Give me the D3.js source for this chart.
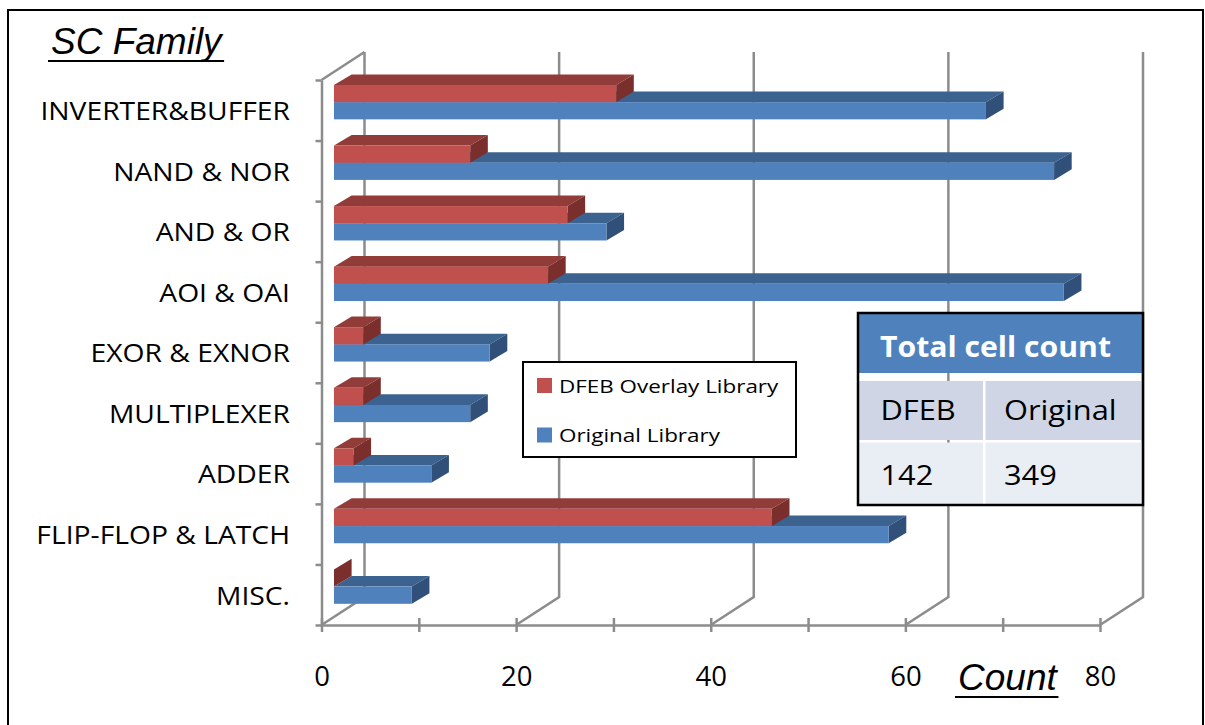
<!DOCTYPE html>
<html>
<head>
<meta charset="utf-8">
<script src="https://d3js.org/d3.v7.min.js"></script>
<style>
  body { margin: 0; background: #fff; }
  svg { display: block; }
</style>
</head>
<body>
<svg id="chart" width="1205" height="725"></svg>
<script>
// ---- data ----
const categories = ["INVERTER&BUFFER", "NAND & NOR", "AND & OR", "AOI & OAI", "EXOR & EXNOR",
                    "MULTIPLEXER", "ADDER", "FLIP-FLOP & LATCH", "MISC."];
const dfebValues     = [29, 14, 24, 22, 3, 3, 2, 45, 0];
const originalValues = [67, 74, 28, 75, 16, 14, 10, 57, 8];
const seriesNames = ["DFEB Overlay Library", "Original Library"];
const xTickValues = [0, 10, 20, 30, 40, 50, 60, 70, 80];
const xGridValues = [0, 20, 40, 60, 80];
const tableTitle = "Total cell count";
const tableHeads = ["DFEB", "Original"];

// ---- styling ----
const uiFont = "'Open Sans', 'DejaVu Sans', sans-serif";
const titleFont = "'Liberation Sans', Arial, sans-serif";
const gridColor = "#8c8c8c";
const palette = {
  "DFEB Overlay Library": { front: "#c0504d", top: "#923c3a", side: "#7a2f2d" },
  "Original Library":     { front: "#4f81bd", top: "#3c6290", side: "#30507a" }
};

const svg = d3.select("#chart");
svg.append("rect").attr("width", 1205).attr("height", 725).attr("fill", "#fff");
svg.append("rect").attr("x", 8).attr("y", 10).attr("width", 1195).attr("height", 740)
  .attr("fill", "none").attr("stroke", "#000").attr("stroke-width", 2);

// stretch text horizontally by factor k
function stretch(sel, k) {
  sel.each(function () {
    const w = this.getComputedTextLength();
    d3.select(this).attr("textLength", w * k).attr("lengthAdjust", "spacingAndGlyphs");
  });
}

// ---- scales (front plane) ----
const x = d3.scaleLinear().domain([0, 80]).range([321.5, 1100]);
const yTop = 80, yBottom = 625;
const y = d3.scaleBand().domain(categories).range([yTop, yBottom])
  .paddingInner(0.432).paddingOuter(0.216);
const sub = d3.scaleBand().domain(seriesNames).range([0, y.bandwidth()]);
const depth = { dx: 43, dy: -28 };
const barFront = 0.29, barBack = 0.70;

// ---- back wall gridlines and floor diagonals ----
const grid = svg.append("g").attr("fill", "none").attr("stroke", gridColor).attr("stroke-width", 2.5);
xGridValues.forEach(t => {
  const px = x(t);
  grid.append("polyline").attr("points", [
    [px, yBottom], [px + depth.dx, yBottom + depth.dy], [px + depth.dx, yTop + depth.dy]
  ].map(p => p.join(",")).join(" "));
});
// left wall top edge
grid.append("line")
  .attr("x1", x(0)).attr("y1", yTop)
  .attr("x2", x(0) + depth.dx).attr("y2", yTop + depth.dy);

// ---- 3D bars ----
const bd = { dx: (barBack - barFront) * depth.dx, dy: (barBack - barFront) * depth.dy * 0.92 };
const barsG = svg.append("g");
const seriesData = [
  { name: seriesNames[1], values: originalValues },
  { name: seriesNames[0], values: dfebValues }
];
const pts = arr => arr.map(p => p.join(",")).join(" ");
categories.forEach((c, i) => {
  seriesData.forEach(s => {
    const v = s.values[i];
    const col = palette[s.name];
    const fx0 = x(0) + barFront * depth.dx;
    const fx1 = x(v) + barFront * depth.dx;
    const fy0 = y(c) + sub(s.name) + barFront * depth.dy;
    const fy1 = fy0 + sub.bandwidth();
    const g = barsG.append("g");
    g.append("polygon").attr("fill", col.top).attr("points", pts([
      [fx0, fy0], [fx1, fy0], [fx1 + bd.dx, fy0 + bd.dy], [fx0 + bd.dx, fy0 + bd.dy]]));
    g.append("polygon").attr("fill", col.side).attr("points", pts([
      [fx1, fy0], [fx1, fy1], [fx1 + bd.dx, fy1 + bd.dy], [fx1 + bd.dx, fy0 + bd.dy]]));
    if (fx1 > fx0) {
      g.append("rect").attr("fill", col.front)
        .attr("x", fx0).attr("y", fy0).attr("width", fx1 - fx0).attr("height", fy1 - fy0);
    }
  });
});

// ---- axes ----
const xAxis = d3.axisBottom(x).tickValues(xTickValues).tickSize(7).tickSizeOuter(0)
  .tickFormat(d => d % 20 === 0 ? d : "");
const gx = svg.append("g").attr("transform", `translate(0,${yBottom})`).call(xAxis);
gx.select(".domain").attr("stroke", gridColor).attr("stroke-width", 2.5);
gx.selectAll(".tick line").attr("stroke", gridColor).attr("stroke-width", 2.5).attr("y1", -7).attr("y2", 7);
gx.selectAll(".tick text").attr("y", 61).attr("dy", 0)
  .attr("font-family", uiFont).attr("font-size", 27.5).attr("fill", "#000");

const yEdge = d3.scaleLinear().domain([0, categories.length]).range([yTop, yBottom]);
const yAxis = d3.axisLeft(yEdge).tickValues(d3.range(categories.length + 1)).tickSize(6)
  .tickSizeOuter(0).tickFormat("");
const gy = svg.append("g").attr("transform", `translate(${x(0)},0)`).call(yAxis);
gy.select(".domain").attr("stroke", gridColor).attr("stroke-width", 2.5);
gy.selectAll(".tick line").attr("stroke", gridColor).attr("stroke-width", 2.5);

// category labels
const catLabels = svg.append("g").selectAll("text").data(categories).join("text")
  .attr("x", 290).attr("y", d => y(d) + y.bandwidth() / 2 + 9.8)
  .attr("text-anchor", "end").attr("font-family", uiFont).attr("font-size", 25)
  .attr("fill", "#000").text(d => d);
stretch(catLabels, 1.13);

// ---- titles ----
function underlinedTitle(label, tx, ty) {
  const t = svg.append("text").attr("x", tx).attr("y", ty)
    .attr("font-family", titleFont).attr("font-style", "italic").attr("font-size", 37)
    .attr("fill", "#000").text(label);
  const b = t.node().getBBox();
  svg.append("line").attr("x1", b.x - 3).attr("x2", b.x + b.width)
    .attr("y1", ty + 7).attr("y2", ty + 7).attr("stroke", "#000").attr("stroke-width", 2.2);
}
underlinedTitle("SC Family", 51, 54);
underlinedTitle("Count", 958, 690);

// ---- legend ----
const legend = svg.append("g");
legend.append("rect").attr("x", 523).attr("y", 362).attr("width", 273).attr("height", 95)
  .attr("fill", "#fff").attr("stroke", "#000").attr("stroke-width", 2);
const legItems = legend.selectAll("g.item").data(seriesNames).join("g").attr("class", "item")
  .attr("transform", (d, i) => `translate(537,${378 + i * 49.5})`);
legItems.append("rect").attr("width", 15).attr("height", 15).attr("fill", d => palette[d].front);
const legText = legItems.append("text").attr("x", 22).attr("y", 14.5)
  .attr("font-family", uiFont).attr("font-size", 19).attr("fill", "#000").text(d => d);
stretch(legText, 1.18);

// ---- totals table ----
const totals = [d3.sum(dfebValues), d3.sum(originalValues)];
const tbl = svg.append("g");
tbl.append("rect").attr("x", 858).attr("y", 313).attr("width", 285).attr("height", 60).attr("fill", "#4f81bd");
const colX = [858, 985.5];
const colW = [125, 157.5];
const rowY = [381, 442.5];
const rowH = [59, 62.5];
const rowFill = ["#cfd5e5", "#e9edf4"];
const rows = [tableHeads, totals.map(String)];
rows.forEach((r, ri) => {
  r.forEach((cell, ci) => {
    tbl.append("rect").attr("x", colX[ci]).attr("y", rowY[ri]).attr("width", colW[ci])
      .attr("height", rowH[ri]).attr("fill", rowFill[ri]);
    const t = tbl.append("text").attr("x", colX[ci] + (ci === 0 ? 22.5 : 18.5)).attr("y", rowY[ri] + (ri === 0 ? 39 : 42.5))
      .attr("font-family", uiFont).attr("font-size", 28).attr("fill", "#000").text(cell);
    stretch(t, 1.1);
  });
});
const head = tbl.append("text").attr("x", 880).attr("y", 357)
  .attr("font-family", uiFont).attr("font-weight", "bold").attr("font-size", 29)
  .attr("fill", "#fff").text(tableTitle);
stretch(head, 1.04);
tbl.append("rect").attr("x", 858).attr("y", 313).attr("width", 285).attr("height", 192)
  .attr("fill", "none").attr("stroke", "#000").attr("stroke-width", 2.5);
</script>
</body>
</html>
